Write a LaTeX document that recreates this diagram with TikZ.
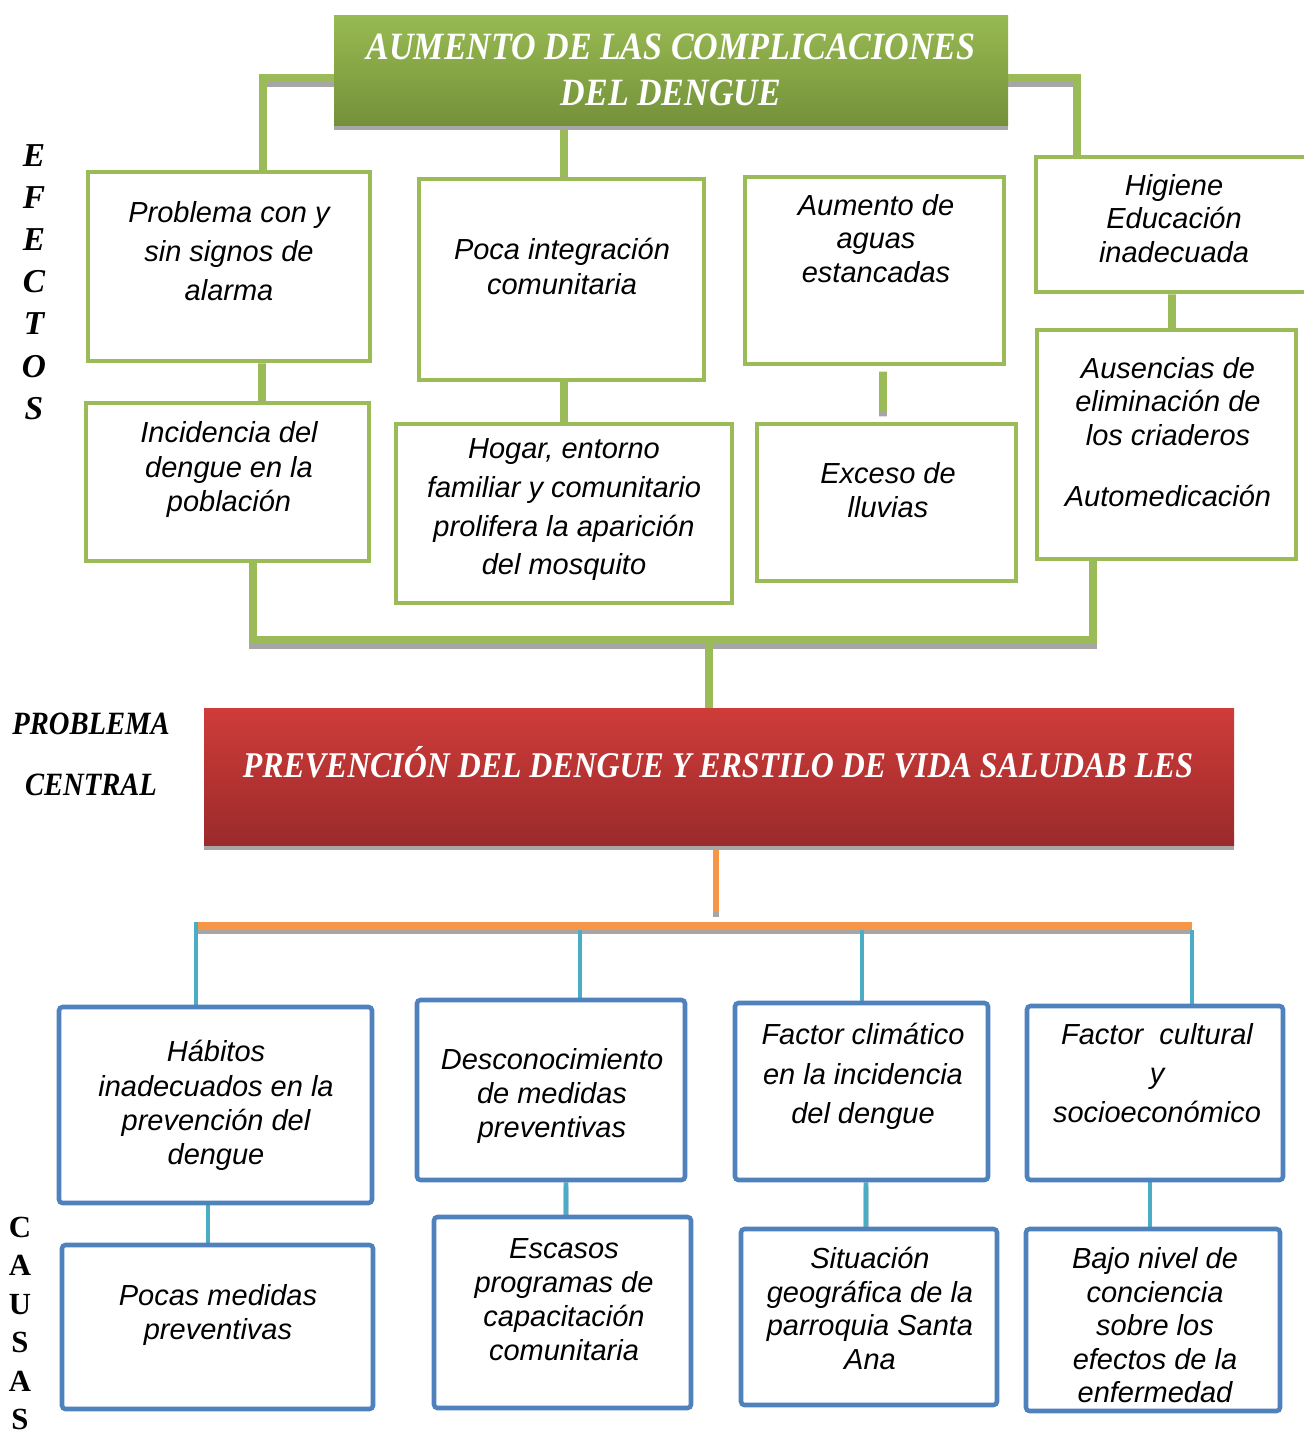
\documentclass[tikz,border=0pt]{standalone}
\usepackage{fontspec}
\setmainfont{Liberation Sans}
\newfontfamily\titlefont[FakeStretch=0.88]{Liberation Serif}
\newfontfamily\lblfont{Liberation Serif}
\usetikzlibrary{
    positioning,
    calc,
    backgrounds
}
\definecolor{effGreen}{RGB}{155,187,89}
\definecolor{bannerTop}{RGB}{152,186,82}
\definecolor{bannerBot}{RGB}{116,145,58}
\definecolor{redTop}{RGB}{207,60,57}
\definecolor{redBot}{RGB}{155,42,43}
\definecolor{causeBlue}{RGB}{79,129,189}
\definecolor{linkBlue}{RGB}{75,172,198}
\definecolor{linkOrange}{RGB}{247,150,70}
\definecolor{shadowGray}{RGB}{166,166,166}
\newcommand{\bxfont}[1]{\fontsize{16.5}{#1}\selectfont\itshape}
\newcommand{\ttlfont}[2]{\titlefont\bfseries\itshape\fontsize{#1}{#2}\selectfont}
\tikzset{
  sz/.style 2 args = {minimum width=#1*0.02cm, minimum height=#2*0.02cm},
  ebox/.style   = {draw=effGreen, line width=2.8pt, fill=white, inner sep=0pt},
  cbox/.style   = {draw=causeBlue, line width=2.6pt, fill=white,
                   rounded corners=2pt, inner sep=0pt},
  btxt/.style   = {align=center, inner sep=0pt, font=\bxfont{#1}},
  btxt/.default = 19.3pt,
  banner/.style = {top color=#1Top, bottom color=#1Bot, draw=none, inner sep=0pt,
                   preaction={fill=shadowGray, transform canvas={yshift=-2.8pt}}},
  glink/.style  = {draw=effGreen, line width=4.4pt,
                   preaction={draw=shadowGray, line width=4.4pt,
                              transform canvas={yshift=-3pt}}},
  olink/.style  = {draw=linkOrange, line width=#1,
                   preaction={draw=shadowGray, line width=#1,
                              transform canvas={yshift=-2.6pt}}},
  olink/.default = 4.4pt,
  blink/.style  = {draw=linkBlue, line width=2.8pt,
                   preaction={draw=shadowGray, line width=2.8pt,
                              transform canvas={yshift=-2.5pt}}}
}

\begin{document}
\begin{tikzpicture}[x=0.02cm, y=-0.02cm]
\useasboundingbox (0,0) rectangle (1304,1431);

% efectos
\node[banner=banner, sz={674}{110}, text=white, align=center,
      font=\ttlfont{22}{26.6}] (aum) at (671,70)
      {AUMENTO DE LAS COMPLICACIONES\\DEL DENGUE};
\node[ebox, sz={282}{189}] (prob) at (229,266.5) {};
\node[ebox, sz={285}{201}] (inte) at (561.5,279.5) {};
\node[ebox, sz={259}{187}] (agua) at (874.5,270.5) {};
\node[ebox, sz={276}{135}] (higi) at (1174,224.5) {};
\node[ebox, sz={283}{158}] (inci) at (227.5,482) {};
\node[ebox, sz={336}{179}] (hogar) at (564,513.5) {};
\node[ebox, sz={259}{157}] (exce) at (886.5,502.5) {};
\node[ebox, sz={259}{229}] (ause) at (1166.5,444.5) {};

\node[btxt=22pt] (probt) at (229,251) {Problema con y\\sin signos de\\alarma};
\node[btxt=19.8pt] (intet) at (562,266.5) {Poca integración\\comunitaria};
\node[btxt=19pt] (aguat) at (876,238.5) {Aumento de\\aguas\\estancadas};
\node[btxt=19pt] (higit) at (1174,218.5) {Higiene\\Educación\\inadecuada};
\node[btxt=19.5pt] (incit) at (229,469.5) {Incidencia del\\dengue en la\\población};
\node[btxt=22pt] (hogart) at (564,510)
      {Hogar, entorno\\familiar y comunitario\\prolifera la aparición\\del mosquito};
\node[btxt=19.3pt] (excet) at (888,490) {Exceso de\\lluvias};
\node[btxt=19pt] (auset) at (1168,432)
      {Ausencias de\\eliminación de\\los criaderos\\[15.6pt]Automedicación};

% problema central
\node[banner=red, sz={1030}{137}] (cent) at (719,776.5) {};
\node[text=white, inner sep=0pt, font=\ttlfont{20.6}{24}] (centt) at (718,762)
      {PREVENCIÓN DEL DENGUE Y ERSTILO DE VIDA SALUDAB LES};
\node[align=center, inner sep=0pt, font=\ttlfont{18.5}{34.6}] (probc) at (91,754)
      {PROBLEMA\\CENTRAL};
\node[align=center, inner sep=0pt, font={\lblfont\bfseries\itshape\fontsize{19}{24}\selectfont}]
      (efe) at (34,282) {E\\F\\E\\C\\T\\O\\S};
\node[align=center, inner sep=0pt, font={\lblfont\bfseries\fontsize{17.5}{21.9}\selectfont}]
      (cau) at (20,1323.5) {C\\A\\U\\S\\A\\S};

% causas
\node[cbox, sz={313}{196}] (habi) at (215.5,1105) {};
\node[cbox, sz={268}{180}] (desc) at (551,1090) {};
\node[cbox, sz={253}{177}] (fact) at (861.5,1091.5) {};
\node[cbox, sz={256}{174}] (cult) at (1155,1093) {};
\node[cbox, sz={311}{164}] (poca) at (217.5,1327) {};
\node[cbox, sz={257}{191}] (esca) at (562.5,1312.5) {};
\node[cbox, sz={256}{176}] (situ) at (869,1317) {};
\node[cbox, sz={254}{182}] (bajo) at (1153,1320) {};

\node[btxt=19.5pt] (habit) at (216,1105.5)
      {Hábitos\\inadecuados en la\\prevención del\\dengue};
\node[btxt=19.3pt] (desct) at (552,1096) {Desconocimiento\\de medidas\\preventivas};
\node[btxt=22.4pt] (factt) at (863,1076.5) {Factor climático\\en la incidencia\\del dengue};
\node[btxt=22pt] (cultt) at (1157,1073) {Factor\ \ cultural\\y\\socioeconómico};
\node[btxt=19.3pt] (pocat) at (218,1315) {Pocas medidas\\preventivas};
\node[btxt=19.3pt] (escat) at (564,1300)
      {Escasos\\programas de\\capacitación\\comunitaria};
\node[btxt=19.1pt] (situt) at (870,1308.5)
      {Situación\\geográfica de la\\parroquia Santa\\Ana};
\node[btxt=19.1pt] (bajot) at (1155,1325.5)
      {Bajo nivel de\\conciencia\\sobre los\\efectos de la\\enfermedad};

\coordinate (ebar) at (709,640);
\coordinate (cbar) at (716,926);
\coordinate (hl) at ($(habi.north)+(-19.5,0)$);
\coordinate (dl) at ($(desc.north)+(29,0)$);
\coordinate (fl) at ($(fact.north)+(0.5,0)$);
\coordinate (cl) at ($(cult.north)+(37,0)$);

\begin{scope}[on background layer]
% conectores efectos
\draw[glink] ($(aum.west)+(0,8)$) -| ($(prob.north)+(34,0)$);
\draw[glink] (aum.south -| hogar.north) -- ($(inte.north)+(2.5,0)$);
\draw[glink] ($(aum.east)+(0,8)$) -| ($(higi.north)+(-97,0)$);
\draw[glink] ($(prob.south)+(33,0)$) -- ($(inci.north)+(34.5,0)$);
\draw[glink] (hogar.north) -- (hogar.north |- inte.south);
\draw[glink, shorten <=3pt, shorten >=6pt] ($(agua.south)+(8.5,0)$) -- ($(exce.north)+(-3.5,0)$);
\draw[glink] ($(higi.south)+(-2,0)$) -- ($(ause.north)+(5.5,0)$);
\draw[glink] ($(inci.south)+(25.5,0)$) |- (ebar) -| ($(ause.south)+(-73.5,0)$);
\draw[glink] (ebar) -- (cent.north -| ebar);
% conectores causas
\draw[olink=3.4pt] (cent.south -| cbar) -- ($(cbar)+(0,-14)$);
\draw[olink] (hl |- cbar) -- (cl |- cbar);
\draw[blink] ($(hl |- cbar)+(0,-4)$) -- (hl);
\draw[blink] ($(dl |- cbar)+(0,4)$) -- (dl);
\draw[blink] ($(fl |- cbar)+(0,4)$) -- (fl);
\draw[blink] ($(cl |- cbar)+(0,4)$) -- (cl);
\draw[blink] ($(habi.south)+(-7.5,0)$) -- ($(poca.north)+(-9.5,0)$);
\draw[blink] ($(desc.south)+(15,0)$) -- ($(esca.north)+(3.5,0)$);
\draw[blink] ($(fact.south)+(4.5,0)$) -- ($(situ.north)+(-3,0)$);
\draw[blink] ($(cult.south)+(-5,0)$) -- ($(bajo.north)+(-3,0)$);
\end{scope}
\end{tikzpicture}
\end{document}
